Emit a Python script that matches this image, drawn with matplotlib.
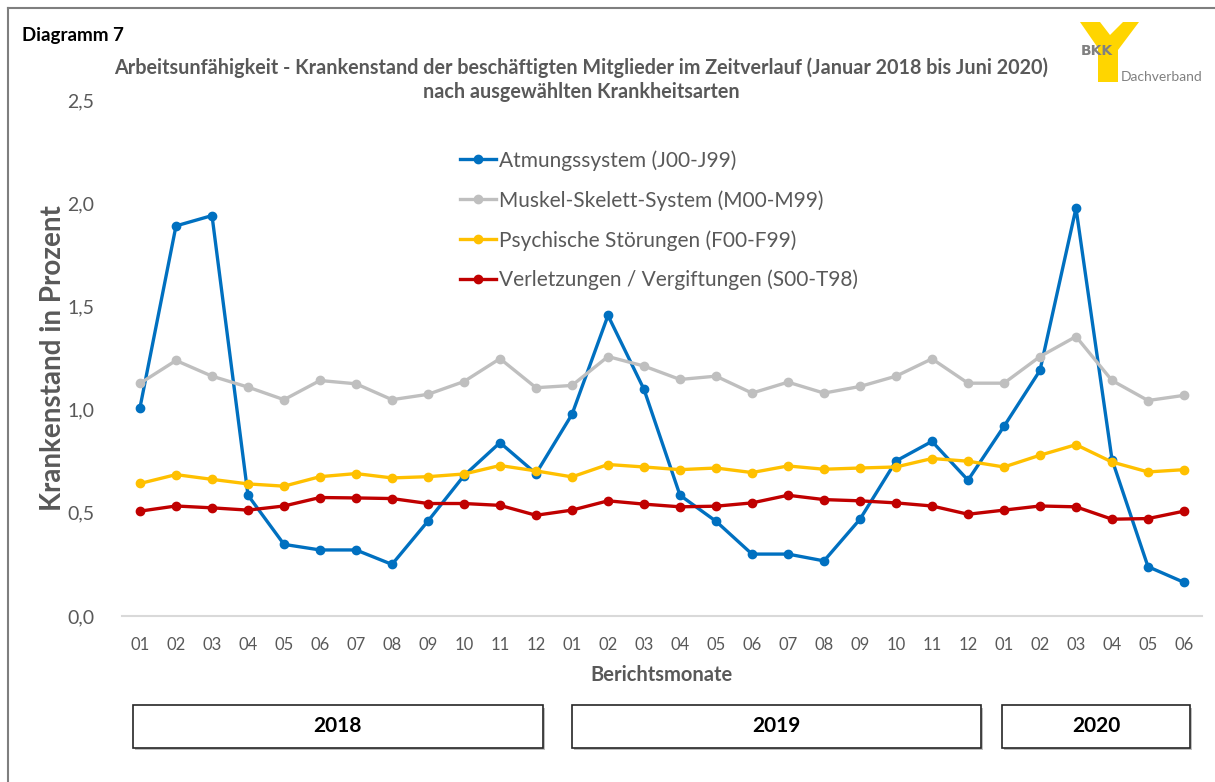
import matplotlib
matplotlib.use("Agg")
import matplotlib.pyplot as plt
from matplotlib.patches import Polygon, Rectangle
from matplotlib.lines import Line2D

# ---------------- data ----------------
months = ["01", "02", "03", "04", "05", "06", "07", "08", "09", "10", "11", "12",
          "01", "02", "03", "04", "05", "06", "07", "08", "09", "10", "11", "12",
          "01", "02", "03", "04", "05", "06"]
years = ["2018", "2019", "2020"]
year_months = [12, 12, 6]

atmung = [1.01, 1.89, 1.94, 0.585, 0.347, 0.32, 0.32, 0.25, 0.46, 0.68, 0.84, 0.69,
          0.977, 1.456, 1.098, 0.585, 0.459, 0.30, 0.30, 0.267, 0.469, 0.751, 0.846, 0.658,
          0.919, 1.19, 1.976, 0.758, 0.239, 0.163]
muskel = [1.127, 1.238, 1.162, 1.109, 1.048, 1.141, 1.125, 1.048, 1.074, 1.136, 1.247, 1.106,
          1.117, 1.257, 1.211, 1.146, 1.162, 1.080, 1.133, 1.080, 1.112, 1.162, 1.246, 1.128,
          1.128, 1.257, 1.354, 1.141, 1.044, 1.069]
psyche = [0.642, 0.685, 0.662, 0.640, 0.629, 0.675, 0.690, 0.669, 0.675, 0.688, 0.729, 0.703,
          0.674, 0.734, 0.722, 0.709, 0.717, 0.695, 0.727, 0.711, 0.717, 0.722, 0.763, 0.750,
          0.722, 0.779, 0.830, 0.746, 0.698, 0.709]
verletz = [0.508, 0.533, 0.524, 0.513, 0.533, 0.574, 0.572, 0.569, 0.545, 0.545, 0.536, 0.488,
           0.513, 0.558, 0.542, 0.529, 0.532, 0.548, 0.585, 0.564, 0.558, 0.548, 0.533, 0.493,
           0.513, 0.533, 0.529, 0.469, 0.472, 0.508]

series_labels = ["Atmungssystem (J00-J99)", "Muskel-Skelett-System (M00-M99)",
                 "Psychische Störungen (F00-F99)", "Verletzungen / Vergiftungen (S00-T98)"]
series_colors = ["#0070C0", "#BFBFBF", "#FFC000", "#C00000"]
yticks = [0.0, 0.5, 1.0, 1.5, 2.0, 2.5]

# ---------------- layout ----------------
W, H = 1215, 782
FONT = ["Lato", "DejaVu Sans"]
plt.rcParams["font.family"] = FONT
TXT = "#595959"

fig = plt.figure(figsize=(W / 100, H / 100), dpi=100)


def fx(px):
    return px / W


def fy(py):
    return 1 - py / H


ax = fig.add_axes([fx(122), fy(616), fx(1202) - fx(122), fy(100) - fy(616)])

x = list(range(len(months)))
for vals, lab, col in zip([atmung, muskel, psyche, verletz], series_labels, series_colors):
    ax.plot(x, vals, color=col, lw=2.4, marker="o", ms=6, label=lab, zorder=3)

ax.set_xlim(-0.5, len(months) - 0.5)
ax.set_ylim(0, 2.5)
ax.set_yticks(yticks)
ax.set_yticklabels([f"{v:.1f}".replace(".", ",") for v in yticks])
ax.set_xticks(x)
ax.set_xticklabels(months)
ax.tick_params(axis="both", length=0, colors=TXT)
ax.tick_params(axis="y", labelsize=14, pad=20)
ax.tick_params(axis="x", labelsize=12, pad=15)
for s in ["top", "right", "left"]:
    ax.spines[s].set_visible(False)
ax.spines["bottom"].set_color("#D9D9D9")
ax.spines["bottom"].set_linewidth(1.5)

ax.set_xlabel("Berichtsmonate", fontsize=14.5, fontweight="bold", color=TXT, labelpad=9)
ax.set_ylabel("Krankenstand in Prozent", fontsize=20, fontweight="bold", color=TXT, labelpad=1)

leg = ax.legend(loc="upper left", bbox_to_anchor=(fx(460), fy(150)), bbox_transform=fig.transFigure,
                frameon=False, fontsize=15, handlelength=1.75, handletextpad=0.1,
                labelspacing=0.93, borderpad=0, borderaxespad=0)
for t in leg.get_texts():
    t.set_color(TXT)

# titles
fig.text(fx(22), fy(35), "Diagramm 7", fontsize=13.5, fontweight="bold", color="black",
         va="center", ha="left")
fig.text(fx(581), fy(68),
         "Arbeitsunfähigkeit - Krankenstand der beschäftigten Mitglieder im Zeitverlauf (Januar 2018 bis Juni 2020)",
         fontsize=14.2, fontweight="bold", color=TXT, ha="center", va="center")
fig.text(fx(581), fy(92), "nach ausgewählten Krankheitsarten", fontsize=14.2, fontweight="bold",
         color=TXT, ha="center", va="center")

# outer frame (left and top)
fig.add_artist(Line2D([fx(8), fx(8)], [fy(8), 0], transform=fig.transFigure, color="#7F7F7F", lw=1.5))
fig.add_artist(Line2D([fx(8), 1], [fy(8), fy(8)], transform=fig.transFigure, color="#7F7F7F", lw=1.5))

# year boxes
box_x = [(133, 543), (572, 981), (1002, 1190)]
for (x0, x1), yr in zip(box_x, years):
    shadow = Rectangle((fx(x0 + 2), fy(750)), fx(x1 - x0), fy(706) - fy(748), transform=fig.transFigure,
                       facecolor="#BFBFBF", edgecolor="none", zorder=1)
    fig.add_artist(shadow)
    r = Rectangle((fx(x0), fy(748)), fx(x1 - x0), fy(705) - fy(748), transform=fig.transFigure,
                  facecolor="white", edgecolor="#262626", lw=1.2, zorder=2)
    fig.add_artist(r)
    fig.text(fx((x0 + x1) / 2), fy(726), yr, fontsize=15, fontweight="bold", color="black",
             ha="center", va="center", zorder=3)

# logo
ypts = [(1080, 22), (1100, 22), (1110, 35), (1123, 22), (1139, 22), (1118, 50),
        (1118, 82), (1098, 82), (1098, 48)]
fig.add_artist(Polygon([(fx(a), fy(b)) for a, b in ypts], closed=True, transform=fig.transFigure,
                       facecolor="#FFD500", edgecolor="none"))
fig.text(fx(1081), fy(51), "BKK", fontsize=10, fontweight="bold", color="#808080",
         ha="left", va="center", family=["DejaVu Sans"])
fig.text(fx(1121), fy(77), "Dachverband", fontsize=10, color="#808080", ha="left", va="center")

fig.savefig("out.png", dpi=100)
